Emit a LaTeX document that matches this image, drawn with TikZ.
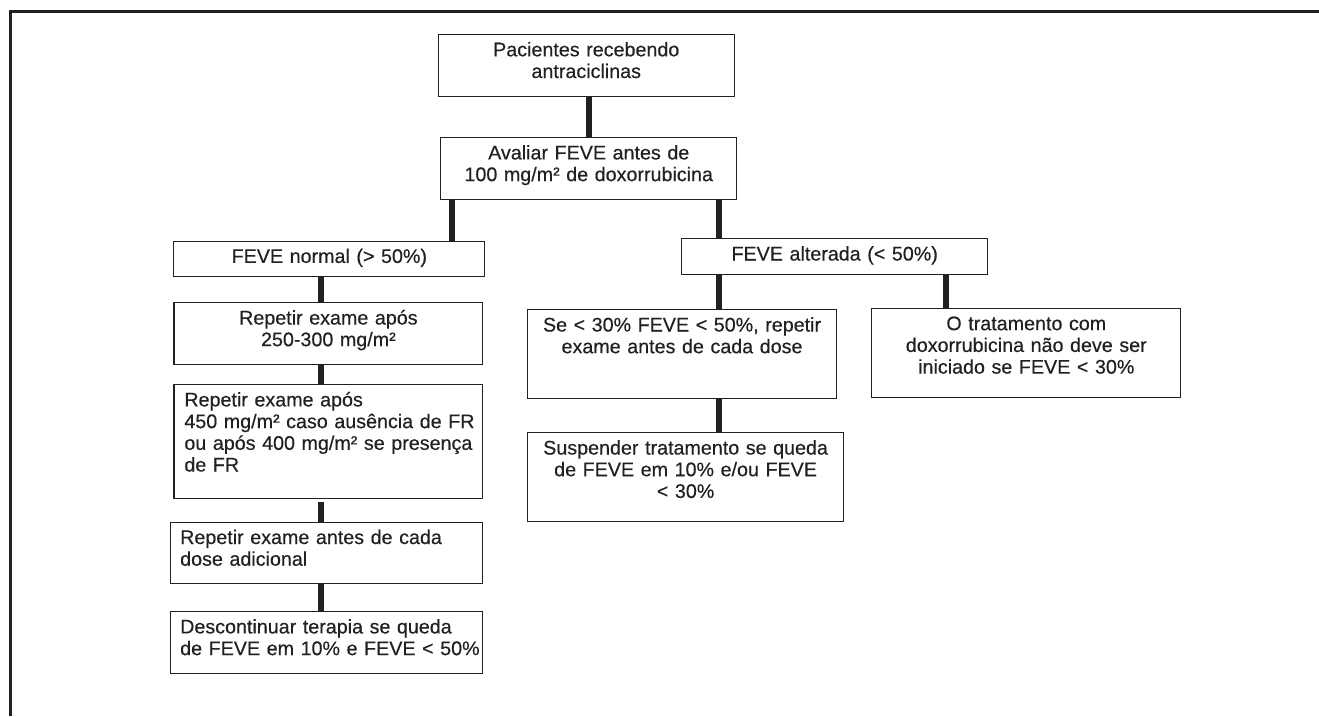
\documentclass[tikz,border=0pt]{standalone}
\usepackage{fontspec}
\setmainfont{Liberation Sans}[FakeBold=0.4]
\usetikzlibrary{positioning}
\definecolor{tinta}{rgb}{0.13,0.13,0.13}

\tikzset{
  caixa/.style={draw=tinta, line width=1.1pt, inner sep=0pt, anchor=north west},
  texto/.style={text=tinta, inner sep=0pt, font=\fontsize{19.7}{21.7}\selectfont},
  centrado/.style={texto, align=center, anchor=base},
  esquerda/.style={texto, align=left, anchor=base west},
  ligacao/.style={draw=tinta, line width=6pt}
}

\begin{document}
\begin{tikzpicture}[x=1pt, y=-1pt]
    \useasboundingbox (0,0) rectangle (1319,716);
    \def\topo{22.2}
    % moldura
    \draw[tinta, line width=2.5pt] (10.5,716) -- (10.5,11.3) -- (1319,11.3);
    % eixos das ligacoes
    \coordinate (eixoC) at (589,0);
    \coordinate (eixoN) at (451.7,0);
    \coordinate (eixoA) at (719.3,0);
    \coordinate (eixoD) at (945.7,0);
    \coordinate (eixoE) at (321,0);
    % caixas
    \node[caixa, minimum width=296pt, minimum height=62pt] (pacientes) at (437.7,34.1) {};
    \node[caixa, minimum width=296pt, minimum height=61.3pt] (avaliar) at (440.2,137.2) {};
    \node[caixa, minimum width=311pt, minimum height=35.3pt] (normal) at (173.3,240.7) {};
    \node[caixa, minimum width=306.3pt, minimum height=35.7pt] (alterada) at (681,238.3) {};
    \node[caixa, minimum width=309pt, minimum height=89pt] (seTrinta) at (527,309.3) {};
    \node[caixa, minimum width=308.9pt, minimum height=89pt] (naoIniciar) at (871.3,308) {};
    \node[caixa, minimum width=316.1pt, minimum height=88.4pt] (suspender) at (527,432.3) {};
    \node[caixa, minimum width=308.9pt, minimum height=61.7pt] (repetirA) at (173.4,302.3) {};
    \node[caixa, minimum width=308.9pt, minimum height=113.5pt] (repetirB) at (173.4,384.2) {};
    \node[caixa, minimum width=312.3pt, minimum height=61.5pt] (repetirC) at (170,521.8) {};
    \node[caixa, minimum width=312.3pt, minimum height=61.5pt] (descont) at (170,611.2) {};
    % textos
    \node[centrado, text width=296pt] (pacientesT) at ([yshift=-\topo pt]pacientes.north) {Pacientes recebendo\\antraciclinas};
    \node[centrado, text width=296pt] (avaliarT) at ([yshift=-\topo pt]avaliar.north) {Avaliar FEVE antes de\\100 mg/m² de doxorrubicina};
    \node[centrado, text width=311pt] (normalT) at ([yshift=-\topo pt]normal.north) {FEVE normal (> 50\%)};
    \node[centrado, text width=306pt] (alteradaT) at ([yshift=-\topo pt]alterada.north) {FEVE alterada (< 50\%)};
    \node[centrado, text width=309pt] (seTrintaT) at ([yshift=-\topo pt]seTrinta.north) {Se < 30\% FEVE < 50\%, repetir\\exame antes de cada dose};
    \node[centrado, text width=309pt] (naoIniciarT) at ([yshift=-\topo pt]naoIniciar.north) {O tratamento com\\doxorrubicina não deve ser\\iniciado se FEVE < 30\%};
    \node[centrado, text width=316pt] (suspenderT) at ([yshift=-\topo pt]suspender.north) {Suspender tratamento se queda\\de FEVE em 10\% e/ou FEVE\\< 30\%};
    \node[centrado, text width=309pt] (repetirAT) at ([yshift=-\topo pt]repetirA.north) {Repetir exame após\\250-300 mg/m²};
    \node[esquerda, text width=304pt] (repetirBT) at ([xshift=10.8pt, yshift=-\topo pt]repetirB.north west) {Repetir exame após\\450 mg/m² caso ausência de FR\\ou após 400 mg/m² se presença\\de FR};
    \node[esquerda, text width=304pt] (repetirCT) at ([xshift=10pt, yshift=-\topo pt]repetirC.north west) {Repetir exame antes de cada\\dose adicional};
    \node[esquerda, text width=304pt] (descontT) at ([xshift=10pt, yshift=-\topo pt]descont.north west) {Descontinuar terapia se queda\\de FEVE em 10\% e FEVE < 50\%};
    % ligacoes
    \draw[ligacao] (eixoC |- pacientes.south) -- (eixoC |- avaliar.north);
    \draw[ligacao] (eixoN |- avaliar.south) -- (eixoN |- normal.north);
    \draw[ligacao] (eixoA |- avaliar.south) -- (eixoA |- alterada.north);
    \draw[ligacao] (eixoE |- normal.south) -- (eixoE |- repetirA.north);
    \draw[ligacao] (eixoE |- repetirA.south) -- (eixoE |- repetirB.north);
    \draw[ligacao, shorten <=3.5pt] (eixoE |- repetirB.south) -- (eixoE |- repetirC.north);
    \draw[ligacao] (eixoE |- repetirC.south) -- (eixoE |- descont.north);
    \draw[ligacao] (eixoA |- alterada.south) -- (eixoA |- seTrinta.north);
    \draw[ligacao] (eixoD |- alterada.south) -- (eixoD |- naoIniciar.north);
    \draw[ligacao] (eixoA |- seTrinta.south) -- (eixoA |- suspender.north);
\end{tikzpicture}
\end{document}
